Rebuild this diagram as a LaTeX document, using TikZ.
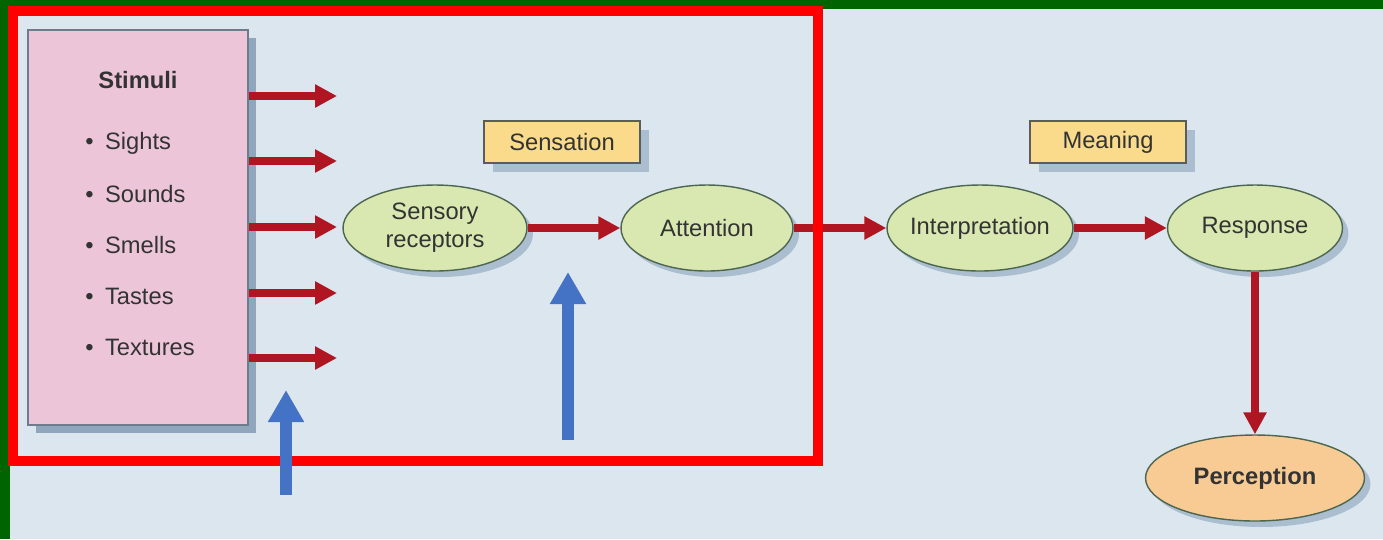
\documentclass[tikz,border=0pt]{standalone}
\usepackage{fontspec}
\setmainfont{Liberation Sans}
\usepackage{xcolor}
\usetikzlibrary{arrows.meta,shadows,shapes.geometric}

\definecolor{bgblue}{HTML}{DCE6EF}
\definecolor{framegreen}{HTML}{006400}
\definecolor{framered}{HTML}{FF0000}
\definecolor{stimpink}{HTML}{EDC5D9}
\definecolor{boxline}{HTML}{6D7B8C}
\definecolor{shadowblue}{HTML}{8FA6BC}
\definecolor{softshadow}{HTML}{ABBED0}
\definecolor{ovalgreen}{HTML}{D8E8B0}
\definecolor{ovalline}{HTML}{4D6650}
\definecolor{tagyellow}{HTML}{FADB8C}
\definecolor{percorange}{HTML}{F8CB95}
\definecolor{flowred}{HTML}{B01622}
\definecolor{pointblue}{HTML}{4472C4}
\definecolor{textgray}{HTML}{333333}

\tikzset{
  every node/.style={text=textgray, font=\fontsize{13.5}{16}\selectfont},
  oval/.style={ellipse, draw=ovalline, thick, fill=ovalgreen, inner sep=0pt, inner xsep=-8pt,
    minimum height=1.72cm, align=center,
    drop shadow={fill=softshadow, opacity=1, shadow xshift=0.12cm, shadow yshift=-0.12cm}},
  tag/.style={rectangle, draw=textgray!80, thick, fill=tagyellow, minimum width=3.12cm, minimum height=0.84cm,
    drop shadow={fill=softshadow, opacity=1, shadow xshift=0.18cm, shadow yshift=-0.18cm}},
  item/.style={anchor=west, inner sep=0pt},
  flow/.style={draw=flowred, line width=0.16cm, -{Triangle[length=0.44cm, width=0.44cm]}},
  pointer/.style={draw=pointblue, line width=0.24cm, -{Triangle[length=0.64cm, width=0.68cm]}}
}

\begin{document}
\begin{tikzpicture}[x=0.02cm, y=-0.02cm]
\useasboundingbox (0,0) rectangle (1383,539);
\fill[bgblue] (0,0) rectangle (1383,539);
\fill[framegreen] (0,0) rectangle (1383,9);
\fill[framegreen] (0,0) rectangle (10,539);

% stimuli box
\node[rectangle, draw=boxline, thick, fill=stimpink, minimum width=4.4cm, minimum height=7.9cm,
  drop shadow={fill=shadowblue, opacity=1, shadow xshift=0.16cm, shadow yshift=-0.16cm}] (stim) at (138,227.5) {};
\node[font=\fontsize{13.5}{16}\selectfont\bfseries] (stimTitle) at (138,80) {Stimuli};
\foreach \name [count=\i] in {Sights,Sounds,Smells,Tastes,Textures}
  \node[item] (item\i) at (85,{92+51*\i}) {\textbullet\hspace{6.5pt}\name};

% ovals
\node[oval, minimum width=3.68cm] (sens) at (435,228) {Sensory\\receptors};
\node[oval, minimum width=3.44cm] (att) at (707,228) {Attention};
\node[oval, minimum width=3.72cm] (interp) at (980,228) {Interpretation};
\node[oval, minimum width=3.5cm] (resp) at (1255,228) {Response};
\node[oval, fill=percorange, minimum width=4.38cm, font=\fontsize{13.5}{16}\selectfont\bfseries] (perc) at (1255,478) {Perception};

% tags
\node[tag] (sensTag) at (562,142) {Sensation};
\node[tag] (meanTag) at (1108,142) {Meaning};

% arrows
\foreach \yy [count=\i] in {96,161,227,293,358} {
  \coordinate (s\i) at (337,\yy);
  \draw[flow] (stim.east |- s\i) -- (s\i);
}
\draw[flow] (sens) -- (att);
\draw[flow] (att) -- (interp);
\draw[flow] (interp) -- (resp);
\draw[flow] (resp) -- (perc);

% highlight
\draw[framered, line width=0.2cm] (13,11) rectangle (818,461);
\coordinate (p1tail) at (286,495);
\coordinate (p1tip) at (286,390);
\coordinate (p2tail) at (568,440);
\coordinate (p2tip) at (568,272);
\draw[pointer] (p1tail) -- (p1tip);
\draw[pointer] (p2tail) -- (p2tip);
\end{tikzpicture}
\end{document}
